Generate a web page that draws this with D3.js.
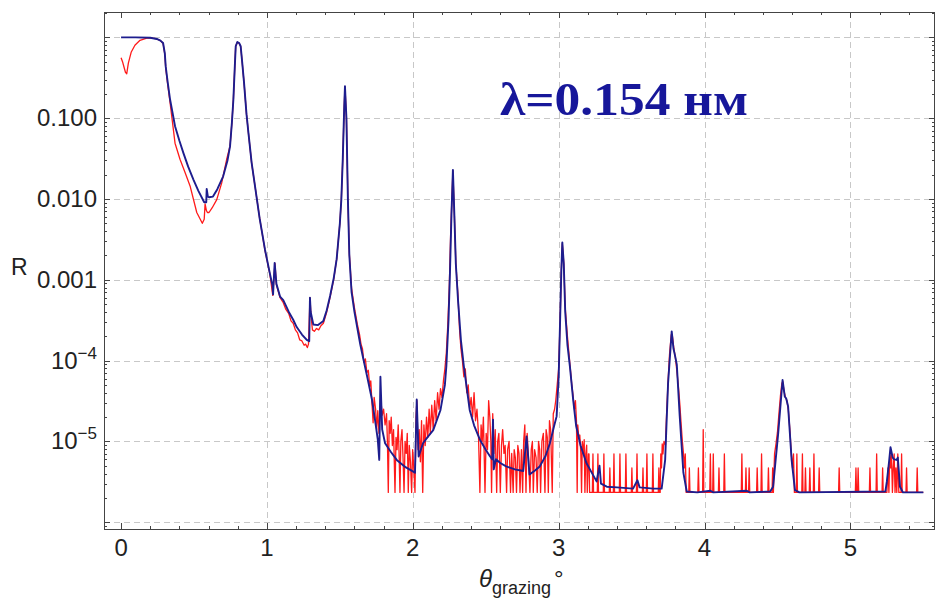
<!DOCTYPE html>
<html>
<head>
<meta charset="utf-8">
<script src="https://cdn.jsdelivr.net/npm/d3@7"></script>
<style>
  body { margin: 0; background: #fff; }
  svg { font-family: "Liberation Sans", Arial, sans-serif; }
</style>
</head>
<body>
<div id="chart"></div>
<script>
// fitted reflectivity curve (theta in degrees, R)
var blue = [
  [0.000, 1.0], [0.100, 1.0], [0.200, 0.99], [0.245, 0.955], [0.270, 0.912], [0.288, 0.851],
  [0.300, 0.631], [0.306, 0.437], [0.320, 0.275], [0.336, 0.170], [0.370, 0.0794], [0.400, 0.0525],
  [0.427, 0.0372], [0.460, 0.0251], [0.496, 0.0174], [0.530, 0.0126], [0.570, 0.00912], [0.584, 0.0091],
  [0.587, 0.0133], [0.595, 0.0107], [0.603, 0.0105], [0.630, 0.0107], [0.660, 0.0132], [0.700, 0.0191],
  [0.730, 0.0302], [0.747, 0.0447], [0.760, 0.0891], [0.770, 0.170], [0.780, 0.447], [0.786, 0.776],
  [0.797, 0.877], [0.810, 0.851], [0.820, 0.776], [0.830, 0.501], [0.843, 0.275], [0.860, 0.112],
  [0.873, 0.0661], [0.895, 0.0282], [0.918, 0.0145], [0.950, 0.00575], [0.987, 0.00234], [1.020, 0.0012],
  [1.038, 8.5e-4], [1.042, 6.6e-4], [1.053, 1.62e-3], [1.065, 8.9e-4], [1.090, 6.2e-4], [1.112, 5.6e-4],
  [1.150, 4.0e-4], [1.180, 3.2e-4], [1.204, 2.6e-4], [1.240, 2.1e-4], [1.273, 1.8e-4], [1.290, 1.74e-4],
  [1.295, 6.0e-4], [1.300, 4.0e-4], [1.318, 2.8e-4], [1.350, 2.75e-4], [1.387, 3.1e-4], [1.410, 4.2e-4],
  [1.433, 6.3e-4], [1.458, 1.05e-3], [1.478, 1.8e-3], [1.500, 5.0e-3], [1.510, 9.8e-3], [1.520, 0.0316],
  [1.530, 0.141], [1.535, 0.248], [1.545, 0.1], [1.555, 0.01], [1.565, 2.0e-3], [1.580, 7.1e-4],
  [1.600, 4.0e-4], [1.620, 2.5e-4], [1.640, 1.58e-4], [1.660, 1.07e-4], [1.690, 6.0e-5], [1.720, 3.3e-5],
  [1.740, 1.9e-5], [1.760, 1.05e-5], [1.770, 5.9e-6], [1.778, 6.3e-5], [1.790, 1.41e-5], [1.810, 9.5e-6],
  [1.850, 7.4e-6], [1.890, 5.9e-6], [1.950, 4.8e-6], [2.015, 4.1e-6], [2.027, 3.3e-5], [2.040, 6.5e-6],
  [2.070, 9.5e-6], [2.100, 1.12e-5], [2.140, 1.38e-5], [2.190, 2.45e-5], [2.220, 5.0e-5], [2.230, 8.5e-5],
  [2.245, 3.2e-4], [2.255, 1.26e-3], [2.265, 6.3e-3], [2.275, 0.0229], [2.285, 6.3e-3], [2.295, 1.58e-3],
  [2.310, 5.6e-4], [2.330, 1.78e-4], [2.350, 8.5e-5], [2.390, 2.45e-5], [2.420, 1.58e-5], [2.460, 1.05e-5],
  [2.500, 7.9e-6], [2.530, 6.5e-6], [2.545, 6.0e-6], [2.550, 1.86e-5], [2.555, 4.5e-6], [2.570, 6.0e-6],
  [2.600, 5.4e-6], [2.640, 4.9e-6], [2.700, 4.5e-6], [2.757, 4.3e-6], [2.780, 1.15e-5], [2.800, 3.9e-6],
  [2.840, 4.4e-6], [2.870, 4.9e-6], [2.910, 6.6e-6], [2.940, 9.5e-6], [2.970, 1.58e-5], [2.986, 2.04e-5],
  [3.000, 6.3e-5], [3.010, 3.2e-4], [3.018, 1.26e-3], [3.025, 2.9e-3], [3.035, 1.58e-3], [3.045, 4.0e-4],
  [3.060, 1.58e-4], [3.077, 8.5e-5], [3.100, 3.2e-5], [3.120, 1.55e-5], [3.150, 8.9e-6], [3.190, 5.4e-6],
  [3.260, 3.2e-6], [3.280, 5.0e-6], [3.290, 3.0e-6], [3.330, 2.75e-6], [3.400, 2.7e-6], [3.510, 2.6e-6],
  [3.540, 3.3e-6], [3.555, 2.7e-6], [3.650, 2.6e-6], [3.706, 2.6e-6], [3.730, 5.9e-6], [3.750, 5.2e-5],
  [3.775, 2.3e-4], [3.787, 1.41e-4], [3.797, 1.17e-4], [3.810, 8.9e-5], [3.830, 2.04e-5], [3.855, 4.1e-6],
  [3.878, 2.4e-6], [3.950, 2.34e-6], [4.040, 2.45e-6], [4.060, 2.34e-6], [4.290, 2.45e-6], [4.310, 2.34e-6],
  [4.450, 2.4e-6], [4.470, 2.75e-6], [4.505, 1.26e-5], [4.535, 5.75e-5], [4.550, 3.6e-5], [4.560, 3.4e-5],
  [4.573, 2.7e-5], [4.597, 5.9e-6], [4.620, 2.5e-6], [4.650, 2.34e-6], [5.240, 2.4e-6], [5.250, 3.2e-6],
  [5.265, 5.6e-6], [5.275, 8.5e-6], [5.290, 6.3e-6], [5.300, 6.0e-6], [5.317, 5.9e-6], [5.325, 6.3e-6],
  [5.340, 2.75e-6], [5.360, 2.34e-6], [5.500, 2.34e-6]
];

// measured reflectivity (noisy, counts floor ~2.34e-6)
var red = [
  [0.000, 0.56], [0.010, 0.50], [0.020, 0.43], [0.030, 0.37], [0.039, 0.355], [0.050, 0.48],
  [0.070, 0.66], [0.095, 0.80], [0.130, 0.92], [0.176, 0.98], [0.215, 0.98], [0.245, 0.955],
  [0.270, 0.91], [0.288, 0.84], [0.300, 0.62], [0.306, 0.42], [0.320, 0.26], [0.336, 0.155],
  [0.370, 0.049], [0.404, 0.031], [0.440, 0.021], [0.473, 0.0145], [0.519, 0.0068], [0.557, 0.0050],
  [0.570, 0.0056], [0.576, 0.0087], [0.585, 0.0072], [0.592, 0.0068], [0.603, 0.0068], [0.625, 0.0078],
  [0.656, 0.0098], [0.690, 0.0158], [0.724, 0.031], [0.747, 0.045], [0.760, 0.089], [0.770, 0.17],
  [0.780, 0.45], [0.786, 0.78], [0.797, 0.87], [0.810, 0.84], [0.820, 0.77], [0.830, 0.50],
  [0.843, 0.275], [0.860, 0.112], [0.873, 0.066], [0.895, 0.028], [0.918, 0.0145], [0.950, 0.0058],
  [0.987, 0.0023], [1.020, 0.00118], [1.040, 6.4e-4], [1.055, 1.6e-3], [1.065, 8.7e-4], [1.090, 6.0e-4],
  [1.110, 5.3e-4], [1.130, 4.3e-4], [1.150, 3.8e-4], [1.165, 3.1e-4], [1.180, 2.9e-4], [1.195, 2.4e-4],
  [1.210, 2.2e-4], [1.225, 1.8e-4], [1.240, 1.75e-4], [1.255, 1.55e-4], [1.265, 1.6e-4], [1.277, 1.45e-4],
  [1.285, 1.6e-4], [1.295, 6.0e-4], [1.302, 3.6e-4], [1.312, 2.4e-4], [1.325, 2.3e-4], [1.340, 2.5e-4],
  [1.355, 2.4e-4], [1.370, 2.7e-4], [1.387, 2.9e-4], [1.410, 4.0e-4], [1.433, 6.1e-4], [1.458, 1.02e-3],
  [1.478, 1.8e-3], [1.500, 5.0e-3], [1.510, 9.8e-3], [1.520, 0.032], [1.530, 0.14], [1.535, 0.245],
  [1.545, 0.1], [1.555, 0.01], [1.565, 2.1e-3], [1.580, 7.9e-4], [1.600, 4.5e-4], [1.620, 2.8e-4],
  [1.635, 2.1e-4], [1.645, 1.6e-4], [1.655, 1.4e-4], [1.665, 9.5e-5], [1.675, 1.05e-4], [1.685, 7.1e-5],
  [1.695, 7.6e-5], [1.705, 4.8e-5], [1.712, 5.6e-5], [1.720, 3.0e-5], [1.728, 1.7e-5], [1.735, 3.5e-5],
  [1.745, 2.5e-5], [1.752, 1.4e-5], [1.760, 2.4e-5], [1.768, 1.26e-5], [1.780, 3.5e-5], [1.790, 2.1e-5],
  [1.800, 2.5e-5], [1.810, 1.6e-5], [1.820, 2.2e-5], [1.826, 1.0e-5], [1.832, 2.34e-6], [1.838, 1.8e-5],
  [1.845, 1.26e-5], [1.852, 2.0e-5], [1.860, 8.9e-6], [1.868, 1.4e-5], [1.878, 2.34e-6], [1.885, 1.12e-5],
  [1.892, 7.9e-6], [1.900, 1.6e-5], [1.906, 7.1e-6], [1.912, 2.34e-6], [1.918, 1.0e-5], [1.926, 1.4e-5],
  [1.933, 6.3e-6], [1.940, 2.34e-6], [1.947, 1.0e-5], [1.955, 7.1e-6], [1.962, 1.26e-5], [1.969, 2.34e-6],
  [1.976, 8.9e-6], [1.984, 5.6e-6], [1.992, 2.34e-6], [1.999, 7.9e-6], [2.006, 5.0e-6], [2.015, 2.34e-6],
  [2.022, 2.0e-5], [2.028, 3.2e-5], [2.036, 7.9e-6], [2.044, 1.4e-5], [2.052, 5.6e-6], [2.060, 1.8e-5],
  [2.068, 2.34e-6], [2.076, 1.6e-5], [2.085, 8.9e-6], [2.094, 2.0e-5], [2.103, 1.12e-5], [2.112, 2.5e-5],
  [2.120, 1.26e-5], [2.130, 2.8e-5], [2.140, 1.4e-5], [2.150, 3.2e-5], [2.160, 1.8e-5], [2.170, 4.0e-5],
  [2.180, 2.5e-5], [2.190, 4.5e-5], [2.200, 3.5e-5], [2.210, 5.6e-5], [2.220, 7.9e-5], [2.230, 1.26e-4],
  [2.240, 2.8e-4], [2.250, 7.9e-4], [2.260, 4.0e-3], [2.275, 0.0224], [2.285, 6.3e-3], [2.295, 1.6e-3],
  [2.310, 6.3e-4], [2.320, 2.5e-4], [2.330, 1.4e-4], [2.340, 1.0e-4], [2.350, 6.3e-5], [2.360, 7.9e-5],
  [2.370, 4.0e-5], [2.380, 5.0e-5], [2.390, 2.5e-5], [2.400, 3.5e-5], [2.410, 2.0e-5], [2.420, 4.0e-5],
  [2.430, 1.8e-5], [2.440, 2.5e-5], [2.450, 1.26e-5], [2.460, 2.34e-6], [2.468, 1.6e-5], [2.476, 1.0e-5],
  [2.484, 2.0e-5], [2.495, 2.34e-6], [2.503, 1.26e-5], [2.512, 7.9e-6], [2.520, 3.2e-5], [2.528, 2.0e-5],
  [2.535, 1.0e-5], [2.540, 2.34e-6], [2.548, 2.2e-5], [2.556, 7.1e-6], [2.565, 1.4e-5], [2.575, 2.34e-6],
  [2.582, 1.0e-5], [2.590, 1.26e-5], [2.600, 2.34e-6], [2.608, 8.9e-6], [2.616, 1.4e-5], [2.625, 7.1e-6],
  [2.633, 8.9e-6], [2.643, 2.34e-6], [2.650, 7.9e-6], [2.660, 1.0e-5], [2.670, 2.34e-6], [2.678, 7.1e-6],
  [2.688, 2.34e-6], [2.695, 7.9e-6], [2.703, 6.3e-6], [2.711, 2.34e-6], [2.720, 8.9e-6], [2.728, 7.1e-6],
  [2.735, 2.34e-6], [2.745, 7.9e-6], [2.753, 2.34e-6], [2.760, 1.0e-5], [2.768, 1.6e-5], [2.776, 2.34e-6],
  [2.784, 1.26e-5], [2.792, 7.1e-6], [2.803, 2.34e-6], [2.812, 7.9e-6], [2.820, 1.0e-5], [2.826, 2.34e-6],
  [2.835, 7.9e-6], [2.845, 6.3e-6], [2.853, 2.34e-6], [2.862, 1.0e-5], [2.870, 7.9e-6], [2.876, 2.34e-6],
  [2.885, 1.0e-5], [2.895, 1.26e-5], [2.906, 2.34e-6], [2.914, 1.4e-5], [2.922, 1.12e-5], [2.929, 2.34e-6],
  [2.937, 1.8e-5], [2.945, 1.4e-5], [2.956, 2.34e-6], [2.963, 2.2e-5], [2.972, 2.5e-5], [2.980, 3.2e-5],
  [2.990, 5.0e-5], [3.000, 7.9e-5], [3.010, 3.2e-4], [3.018, 1.26e-3], [3.025, 2.8e-3], [3.035, 1.6e-3],
  [3.045, 4.5e-4], [3.060, 2.0e-4], [3.070, 1.26e-4], [3.080, 7.9e-5], [3.090, 5.0e-5], [3.100, 3.5e-5],
  [3.108, 2.5e-5], [3.115, 3.2e-5], [3.122, 1.8e-5], [3.127, 2.34e-6], [3.131, 1.6e-5], [3.138, 1.1e-5],
  [3.145, 1.2e-5], [3.152, 7.0e-6], [3.157, 2.34e-6], [3.162, 1.0e-5], [3.170, 7.0e-6], [3.175, 1.05e-5],
  [3.180, 2.34e-6], [3.186, 7.0e-6], [3.192, 9.0e-6], [3.196, 2.34e-6], [3.204, 7.0e-6], [3.208, 7.0e-6],
  [3.212, 2.34e-6], [3.231, 2.34e-6], [3.235, 7.0e-6], [3.239, 2.34e-6], [3.265, 2.34e-6], [3.269, 7.0e-6],
  [3.273, 2.34e-6], [3.306, 2.34e-6], [3.310, 7.0e-6], [3.314, 2.34e-6], [3.347, 2.34e-6], [3.351, 4.7e-6],
  [3.355, 2.34e-6], [3.375, 2.34e-6], [3.379, 7.0e-6], [3.383, 2.34e-6], [3.416, 2.34e-6], [3.420, 7.0e-6],
  [3.424, 2.34e-6], [3.457, 2.34e-6], [3.461, 7.0e-6], [3.465, 2.34e-6], [3.498, 2.34e-6], [3.502, 4.7e-6],
  [3.506, 2.34e-6], [3.533, 2.34e-6], [3.537, 7.0e-6], [3.541, 2.34e-6], [3.574, 2.34e-6], [3.578, 4.7e-6],
  [3.582, 2.34e-6], [3.601, 2.34e-6], [3.605, 7.0e-6], [3.609, 2.34e-6], [3.642, 2.34e-6], [3.646, 7.0e-6],
  [3.650, 2.34e-6], [3.683, 2.34e-6], [3.687, 4.7e-6], [3.691, 2.34e-6], [3.696, 2.34e-6], [3.700, 7.0e-6],
  [3.705, 4.7e-6], [3.710, 9.3e-6], [3.715, 7.0e-6], [3.722, 1.0e-5], [3.732, 9.0e-6], [3.740, 2.2e-5],
  [3.750, 5.5e-5], [3.760, 1.2e-4], [3.772, 2.1e-4], [3.780, 2.0e-4], [3.790, 1.4e-4], [3.800, 1.1e-4],
  [3.810, 7.5e-5], [3.820, 5.0e-5], [3.830, 3.0e-5], [3.840, 1.6e-5], [3.848, 1.0e-5], [3.856, 7.0e-6],
  [3.862, 4.7e-6], [3.868, 7.0e-6], [3.874, 2.34e-6],
  [3.892, 2.34e-6], [3.896, 4.7e-6], [3.900, 2.34e-6], [3.954, 2.34e-6], [3.958, 4.7e-6], [3.962, 2.34e-6],
  [3.987, 2.34e-6], [3.991, 1.4e-5], [3.995, 2.34e-6], [4.036, 2.34e-6], [4.040, 7.0e-6], [4.044, 2.34e-6],
  [4.056, 2.34e-6], [4.060, 7.0e-6], [4.064, 2.34e-6], [4.095, 2.34e-6], [4.099, 4.7e-6], [4.103, 2.34e-6],
  [4.132, 2.34e-6], [4.136, 7.0e-6], [4.140, 2.34e-6], [4.252, 2.34e-6], [4.256, 7.0e-6], [4.260, 2.34e-6],
  [4.280, 2.34e-6], [4.284, 4.7e-6], [4.288, 2.34e-6], [4.302, 2.34e-6], [4.306, 4.7e-6], [4.310, 2.34e-6],
  [4.357, 2.34e-6], [4.361, 4.7e-6], [4.365, 2.34e-6], [4.387, 2.34e-6], [4.391, 7.0e-6], [4.395, 2.34e-6],
  [4.434, 2.34e-6], [4.438, 4.7e-6], [4.442, 2.34e-6], [4.463, 2.34e-6], [4.467, 4.7e-6], [4.472, 2.34e-6],
  [4.480, 7.0e-6], [4.490, 9.3e-6], [4.500, 1.3e-5], [4.510, 2.2e-5], [4.520, 3.6e-5], [4.530, 5.2e-5],
  [4.536, 5.5e-5], [4.545, 4.2e-5], [4.555, 3.5e-5], [4.565, 3.2e-5], [4.575, 2.4e-5], [4.585, 1.4e-5],
  [4.595, 7.0e-6], [4.603, 4.7e-6], [4.610, 7.0e-6], [4.616, 2.34e-6],
  [4.629, 2.34e-6], [4.633, 7.0e-6], [4.637, 2.34e-6], [4.667, 2.34e-6], [4.671, 7.0e-6], [4.675, 2.34e-6],
  [4.688, 2.34e-6], [4.692, 4.7e-6], [4.696, 2.34e-6], [4.718, 2.34e-6], [4.722, 4.7e-6], [4.726, 2.34e-6],
  [4.746, 2.34e-6], [4.750, 7.0e-6], [4.754, 2.34e-6], [4.782, 2.34e-6], [4.786, 4.7e-6], [4.790, 2.34e-6],
  [4.919, 2.34e-6], [4.923, 4.7e-6], [4.927, 2.34e-6], [5.034, 2.34e-6], [5.038, 4.7e-6], [5.042, 2.34e-6],
  [5.049, 2.34e-6], [5.053, 4.7e-6], [5.057, 2.34e-6], [5.130, 2.34e-6], [5.134, 4.7e-6], [5.138, 2.34e-6],
  [5.176, 2.34e-6], [5.180, 7.0e-6], [5.184, 2.34e-6], [5.217, 2.34e-6], [5.221, 4.7e-6], [5.225, 2.34e-6],
  [5.250, 2.34e-6], [5.258, 4.7e-6], [5.264, 2.34e-6], [5.270, 7.0e-6], [5.276, 4.7e-6], [5.282, 7.0e-6],
  [5.288, 2.34e-6], [5.294, 4.7e-6], [5.300, 7.0e-6], [5.306, 2.34e-6], [5.312, 4.7e-6], [5.318, 2.34e-6],
  [5.325, 7.0e-6], [5.332, 2.34e-6], [5.347, 2.34e-6], [5.351, 7.0e-6], [5.355, 2.34e-6], [5.381, 2.34e-6],
  [5.385, 4.7e-6], [5.389, 2.34e-6], [5.454, 2.34e-6], [5.458, 4.7e-6], [5.462, 2.34e-6], [5.500, 2.34e-6]
];

var xTicks = [0, 1, 2, 3, 4, 5];
var xGrid = [1, 2, 3, 4, 5];
var yTicks = [0.1, 0.01, 0.001, 1e-4, 1e-5];
var yTickBase = ["0.100", "0.010", "0.001", "10", "10"];
var yTickExp = ["", "", "", "\u22124", "\u22125"];
var yGrid = [1, 0.1, 0.01, 0.001, 1e-4, 1e-5, 1e-6];
var titleText = "\u03bb=0.154 \u043d\u043c";

var width = 938, height = 600;
var plotLeft = 104, plotRight = 935, plotTop = 12, plotBottom = 529;

var x = d3.scaleLinear().domain([-0.117, 5.58]).range([plotLeft, plotRight]);
var y = d3.scaleLog().domain([8.24e-7, 2.06]).range([plotBottom, plotTop]);

var svg = d3.select("#chart").append("svg")
    .attr("width", width)
    .attr("height", height);

svg.append("defs").append("clipPath")
    .attr("id", "plot")
  .append("rect")
    .attr("x", plotLeft).attr("y", plotTop)
    .attr("width", plotRight - plotLeft).attr("height", plotBottom - plotTop);

// grid
var grid = svg.append("g")
    .attr("stroke", "#c8c8c8")
    .attr("stroke-width", 1)
    .attr("stroke-dasharray", "6,4");

grid.selectAll(".gx").data(xGrid).enter().append("line")
    .attr("x1", function(d) { return Math.round(x(d)) + 0.5; })
    .attr("x2", function(d) { return Math.round(x(d)) + 0.5; })
    .attr("y1", plotTop).attr("y2", plotBottom);

grid.selectAll(".gy").data(yGrid).enter().append("line")
    .attr("y1", function(d) { return Math.round(y(d)) + 0.5; })
    .attr("y2", function(d) { return Math.round(y(d)) + 0.5; })
    .attr("x1", plotLeft).attr("x2", plotRight);

// curves
var line = d3.line()
    .x(function(d) { return x(d[0]); })
    .y(function(d) { return y(d[1]); });

var curves = svg.append("g").attr("clip-path", "url(#plot)").attr("fill", "none");

curves.append("path")
    .datum(red)
    .attr("d", line)
    .attr("stroke", "#ff1a1a")
    .attr("stroke-width", 1.3)
    .attr("stroke-linejoin", "round");

curves.append("path")
    .datum(blue)
    .attr("d", line)
    .attr("stroke", "#1d1d8e")
    .attr("stroke-width", 1.9)
    .attr("stroke-linejoin", "round");

// ticks: major and minor on all four sides, pointing inward
var xMinor = d3.range(0, 28).map(function(i) { return i * 0.2; })
    .filter(function(d) { return x(d) < plotRight; });
var yMinor = [];
for (var e = -7; e <= 0; e++) {
  for (var m = 2; m <= 9; m++) {
    var v = m * Math.pow(10, e);
    if (v > y.domain()[0] && v < y.domain()[1]) yMinor.push(v);
  }
}

var ticks = svg.append("g").attr("stroke", "#444").attr("stroke-width", 1);

function addX(data, len) {
  ticks.selectAll(null).data(data).enter().append("line")
      .attr("x1", function(d) { return Math.round(x(d)) + 0.5; })
      .attr("x2", function(d) { return Math.round(x(d)) + 0.5; })
      .attr("y1", plotBottom).attr("y2", plotBottom - len);
  ticks.selectAll(null).data(data).enter().append("line")
      .attr("x1", function(d) { return Math.round(x(d)) + 0.5; })
      .attr("x2", function(d) { return Math.round(x(d)) + 0.5; })
      .attr("y1", plotTop).attr("y2", plotTop + len);
}
function addY(data, len) {
  ticks.selectAll(null).data(data).enter().append("line")
      .attr("y1", function(d) { return Math.round(y(d)) + 0.5; })
      .attr("y2", function(d) { return Math.round(y(d)) + 0.5; })
      .attr("x1", plotLeft).attr("x2", plotLeft + len);
  ticks.selectAll(null).data(data).enter().append("line")
      .attr("y1", function(d) { return Math.round(y(d)) + 0.5; })
      .attr("y2", function(d) { return Math.round(y(d)) + 0.5; })
      .attr("x1", plotRight).attr("x2", plotRight - len);
}
addX(xMinor, 3);
addX(xTicks, 6);
addY(yMinor, 3);
addY(yGrid, 6);

// frame
svg.append("rect")
    .attr("x", plotLeft + 0.5).attr("y", plotTop + 0.5)
    .attr("width", plotRight - plotLeft - 1).attr("height", plotBottom - plotTop)
    .attr("fill", "none")
    .attr("stroke", "#444")
    .attr("stroke-width", 1);

// tick labels
svg.append("g").selectAll("text").data(xTicks).enter().append("text")
    .attr("x", function(d) { return x(d); })
    .attr("y", 556)
    .attr("text-anchor", "middle")
    .attr("font-size", 24)
    .attr("fill", "#222")
    .text(function(d) { return d; });

var yl = svg.append("g").selectAll("text").data(yTicks).enter().append("text")
    .attr("x", 97)
    .attr("y", function(d) { return y(d) + 8; })
    .attr("text-anchor", "end")
    .attr("font-size", 24)
    .attr("fill", "#222");
yl.append("tspan").text(function(d, i) { return yTickBase[i]; });
yl.append("tspan")
    .attr("dy", -10)
    .attr("font-size", 17)
    .text(function(d, i) { return yTickExp[i]; });

// axis titles
svg.append("text")
    .attr("x", 11).attr("y", 275)
    .attr("font-size", 23)
    .attr("fill", "#222")
    .text("R");

var xt = svg.append("text")
    .attr("x", 479).attr("y", 587)
    .attr("font-size", 24)
    .attr("fill", "#222");
xt.append("tspan").attr("font-style", "italic").text("\u03b8");
xt.append("tspan").attr("dy", 7).attr("font-size", 18).text("grazing");
xt.append("tspan").attr("dy", -7).attr("dx", 3).text("\u00b0");

// wavelength label
svg.append("text")
    .attr("x", 500).attr("y", 115)
    .style("font-family", "'Liberation Serif', 'DejaVu Serif', serif")
    .attr("font-weight", "bold")
    .attr("font-size", 47)
    .attr("textLength", 248)
    .attr("lengthAdjust", "spacingAndGlyphs")
    .attr("fill", "#17179a")
    .text(titleText);
</script>
</body>
</html>
